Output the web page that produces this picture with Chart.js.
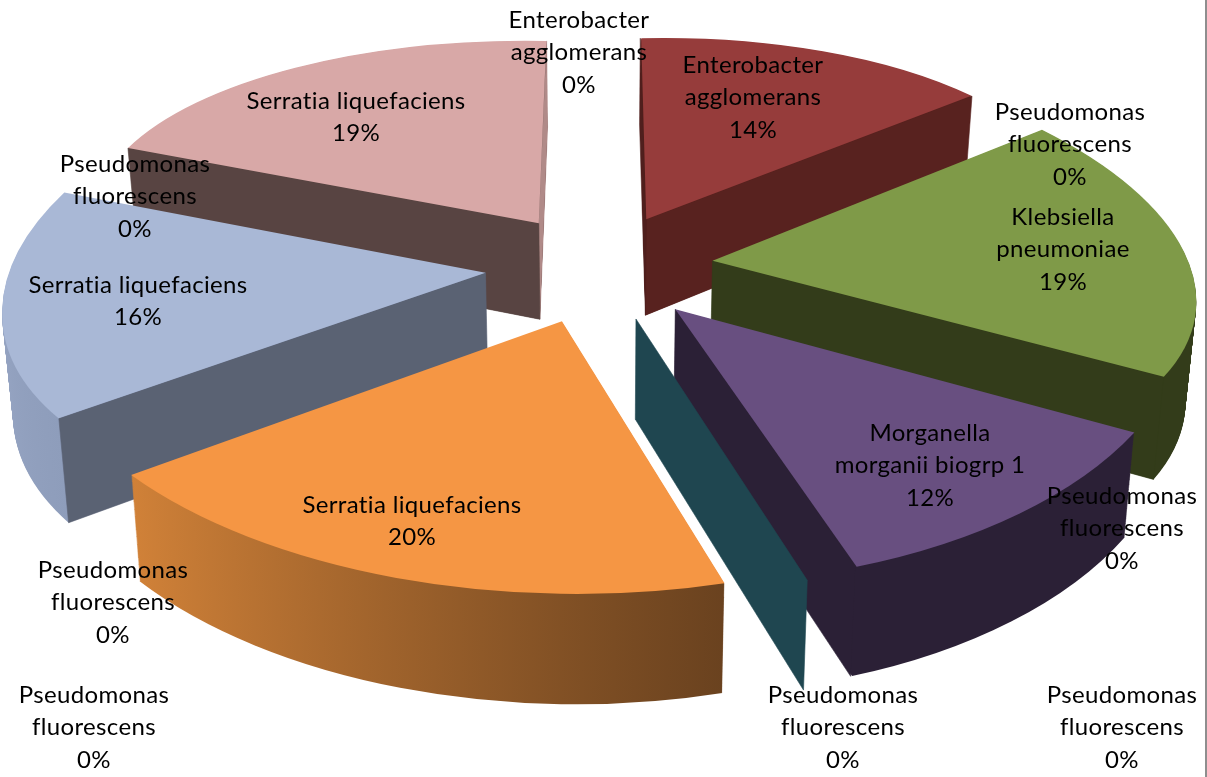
<!DOCTYPE html>
<html>
<head>
<meta charset="utf-8">
<title>Isolates</title>
<script src="https://cdn.jsdelivr.net/npm/chart.js@4/dist/chart.umd.min.js"></script>
<style>
    html, body { margin: 0; padding: 0; background: #fff; overflow: hidden; }
    #wrap { width: 1205px; height: 777px; border-right: 2px solid #8e8e8e; }
    canvas { display: block; }
</style>
</head>
<body>
<div id="wrap"><canvas id="pie" width="1205" height="777"></canvas></div>
<script>
// data, clockwise from 12 o'clock
const categories = [
    "Enterobacter\nagglomerans", "Pseudomonas\nfluorescens", "Klebsiella\npneumoniae",
    "Morganella\nmorganii biogrp 1", "Pseudomonas\nfluorescens", "Pseudomonas\nfluorescens",
    "Pseudomonas\nfluorescens", "Serratia liquefaciens", "Pseudomonas\nfluorescens",
    "Pseudomonas\nfluorescens", "Serratia liquefaciens", "Pseudomonas\nfluorescens",
    "Serratia liquefaciens", "Enterobacter\nagglomerans"
];
const values = [14, 0, 19, 12, 0, 0, 0.15, 20, 0, 0, 16, 0, 19, 0];

// styles
const topColors  = ["#963c3b", "#4f81bd", "#7f9a48", "#684f80", "#2f7d8f", "#4bacc6", "#1f4650", "#f59644", "#7f9fc9", "#c0504d", "#a9b8d6", "#9bbb59", "#d8a8a7", "#8064a2"];
const startWalls = ["#4f1f1d", "#333", "#333c1a", "#2b2036", "#333", "#333", "#1f4650", "#6c4320", "#333", "#333", "#5a6273", "#333", "#584442", "#333"];
const endWalls   = ["#58221f", "#333", "#333c1a", "#2b2036", "#333", "#333", "#1f4650", "#6c4320", "#333", "#333", "#5a6273", "#333", "#b08a88", "#333"];
const rimFrom    = ["#58221f", "#333", "#333c1a", "#2b2036", "#333", "#333", "#1f4650", "#d08138", "#333", "#333", "#8e9dbb", "#333", "#584442", "#333"];
const rimTo      = ["#58221f", "#333", "#333c1a", "#2b2036", "#333", "#333", "#1f4650", "#6a421f", "#333", "#333", "#9dabc9", "#333", "#584442", "#333"];
const explode    = [70, 66, 71, 72, 66, 66, 71, 74, 66, 66, 72, 66, 70, 66];

// label centre x and first line y
const labelX = [753, 1070, 1063, 930, 1122, 1122, 843, 412, 94, 113, 138, 135, 356, 579];
const labelY = [65, 112, 217, 433, 496, 695, 695, 505, 695, 570, 285, 164, 101, 20];
const lineHeight = 32.5;
const labelFont = "24px Lato, 'Open Sans', sans-serif";

// camera of the tilted pie, u/v are in pie radii on the ground plane (v grows toward viewer)
const camera = { cx: 600, cy: 266, a: 479, persp: 0.125, b: 228, c: 33, depth: 98, depthPersp: 10, taper: 0.018 };

function project(u, v, h) {
    const x = camera.a * u * (1 + camera.persp * v);
    const y = camera.cy + camera.b * v + camera.c * v * v;
    return {
        x: camera.cx + x * (1 - camera.taper * h),
        y: y + h * (camera.depth + camera.depthPersp * v)
    };
}

// affine matrix taking three local points on to three image points
function solveAffine(l, p) {
    const dx1 = l[1].x - l[0].x, dy1 = l[1].y - l[0].y;
    const dx2 = l[2].x - l[0].x, dy2 = l[2].y - l[0].y;
    const det = dx1 * dy2 - dx2 * dy1;
    const ex1 = p[1].x - p[0].x, ey1 = p[1].y - p[0].y;
    const ex2 = p[2].x - p[0].x, ey2 = p[2].y - p[0].y;
    const a = (ex1 * dy2 - ex2 * dy1) / det;
    const c = (ex2 * dx1 - ex1 * dx2) / det;
    const b = (ey1 * dy2 - ey2 * dy1) / det;
    const d = (ey2 * dx1 - ey1 * dx2) / det;
    return [a, b, c, d, p[0].x - a * l[0].x - c * l[0].y, p[0].y - b * l[0].x - d * l[0].y];
}

function sliceGeometry(arc) {
    const R = arc.outerRadius;
    const off = arc.options.offset || 0;
    const mid = (arc.startAngle + arc.endAngle) / 2;
    const span = Math.max((arc.endAngle - arc.startAngle) / 2, 0.35);
    const angA = mid - span, angB = mid + span;
    // Arc.draw moves by offset/4 and grows thin slices by the same amount
    const shift = off / 4;
    const fix = 1 - Math.sin(Math.min(Math.PI, arc.circumference));
    const localR = R + shift * fix;
    const ox = arc.x + Math.cos(mid) * shift, oy = arc.y + Math.sin(mid) * shift;
    const apexU = Math.cos(mid) * off / R, apexV = Math.sin(mid) * off / R;
    const local = [
        { x: ox, y: oy },
        { x: ox + Math.cos(angA) * localR, y: oy + Math.sin(angA) * localR },
        { x: ox + Math.cos(angB) * localR, y: oy + Math.sin(angB) * localR }
    ];
    const world = (ang) => ({ u: apexU + Math.cos(ang), v: apexV + Math.sin(ang) });
    const ground = [{ u: apexU, v: apexV }, world(angA), world(angB)];
    return {
        local, ground, apexU, apexV,
        edgeStart: world(arc.startAngle),
        edgeEnd: world(arc.endAngle),
        sortKey: apexV + 0.6 * Math.sin(mid)
    };
}

function drawSliceAt(ctx, arc, geo, h, color) {
    const m = solveAffine(geo.local, geo.ground.map(g => project(g.u, g.v, h)));
    const shadow = Object.create(arc);
    shadow.options = Object.assign({}, arc.options, { backgroundColor: color });
    ctx.save();
    ctx.transform(m[0], m[1], m[2], m[3], m[4], m[5]);
    shadow.draw(ctx);
    ctx.restore();
}

// radial side wall, only when it faces the viewer
function drawEdgeWall(ctx, geo, edge, other, color) {
    const a = project(geo.apexU, geo.apexV, 0);
    const e = project(edge.u, edge.v, 0);
    const o = project(other.u, other.v, 0);
    const crossDown = e.x - a.x;
    const crossOther = (e.x - a.x) * (o.y - a.y) - (e.y - a.y) * (o.x - a.x);
    if (crossDown * crossOther >= 0) return;
    const eb = project(edge.u, edge.v, 1);
    const ab = project(geo.apexU, geo.apexV, 1);
    ctx.beginPath();
    ctx.moveTo(a.x, a.y);
    ctx.lineTo(e.x, e.y);
    ctx.lineTo(eb.x, eb.y);
    ctx.lineTo(ab.x, ab.y);
    ctx.closePath();
    ctx.fillStyle = color;
    ctx.strokeStyle = color;
    ctx.lineWidth = 0.6;
    ctx.fill();
    ctx.stroke();
}

const tiltedPie = {
    id: "tiltedPie",
    beforeDatasetsDraw(chart) {
        const ctx = chart.ctx;
        const arcs = chart.getDatasetMeta(0).data
            .map((arc, i) => ({ arc, i, geo: sliceGeometry(arc) }))
            .filter(s => s.arc.circumference > 0)
            .sort((p, q) => p.geo.sortKey - q.geo.sortKey);

        arcs.forEach(({ arc, i, geo }) => {
            const rim = ctx.createLinearGradient(geo.local[1].x, geo.local[1].y, geo.local[2].x, geo.local[2].y);
            const leftFirst = project(geo.ground[1].u, geo.ground[1].v, 0).x < project(geo.ground[2].u, geo.ground[2].v, 0).x;
            rim.addColorStop(0, leftFirst ? rimFrom[i] : rimTo[i]);
            rim.addColorStop(1, leftFirst ? rimTo[i] : rimFrom[i]);
            const steps = 110;
            for (let s = steps; s > 0; s--) drawSliceAt(ctx, arc, geo, s / steps, rim);

            drawEdgeWall(ctx, geo, geo.edgeEnd, geo.edgeStart, endWalls[i]);
            drawEdgeWall(ctx, geo, geo.edgeStart, geo.edgeEnd, startWalls[i]);
            drawSliceAt(ctx, arc, geo, 0, topColors[i]);
        });
        return false;
    },
    afterDraw(chart) {
        const ctx = chart.ctx;
        const total = values.reduce((a, b) => a + b, 0);
        ctx.save();
        ctx.font = labelFont;
        ctx.letterSpacing = "0.35px";
        ctx.fillStyle = "#000";
        ctx.textAlign = "center";
        ctx.textBaseline = "middle";
        categories.forEach((name, i) => {
            const lines = name.split("\n");
            lines.push(Math.round(values[i] / total * 100) + "%");
            lines.forEach((line, n) => ctx.fillText(line, labelX[i], labelY[i] + n * lineHeight));
        });
        ctx.restore();
    }
};

new Chart(document.getElementById("pie"), {
    type: "pie",
    data: {
        labels: categories,
        datasets: [{
            data: values,
            backgroundColor: topColors,
            borderWidth: 0,
            offset: explode
        }]
    },
    options: {
        responsive: false,
        animation: false,
        radius: 300,
        rotation: 0,
        plugins: {
            legend: { display: false },
            tooltip: { enabled: false }
        }
    },
    plugins: [tiltedPie]
});
</script>
</body>
</html>
